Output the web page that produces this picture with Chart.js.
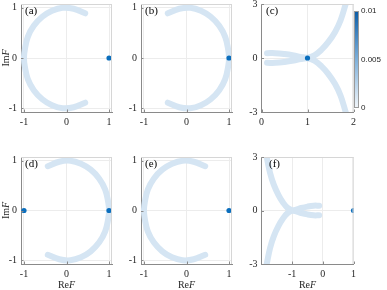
<!DOCTYPE html>
<html>
<head>
<meta charset="utf-8">
<script src="https://cdn.jsdelivr.net/npm/chart.js@4/dist/chart.umd.min.js"></script>
<style>
  body { margin: 0; background: #fff; }
  #wrap { position: relative; width: 387px; height: 290px; }
  #wrap canvas { position: absolute; left: 0; top: 0; }
</style>
</head>
<body>
<div id="wrap">
  <canvas id="pa" width="387" height="290"></canvas>
  <canvas id="pb" width="387" height="290"></canvas>
  <canvas id="pc" width="387" height="290"></canvas>
  <canvas id="pd" width="387" height="290"></canvas>
  <canvas id="pe" width="387" height="290"></canvas>
  <canvas id="pf" width="387" height="290"></canvas>
  <canvas id="cb" width="387" height="290"></canvas>
</div>
<script>
// arc open to the right (panels a, e)
const arcOpenRightX = [0.44, 0.17, -0.09, -0.34, -0.57, -0.77, -0.91, -0.98, -1.00, -0.98, -0.91, -0.77, -0.57, -0.34, -0.09, 0.17, 0.44];
const arcOpenRightY = [0.89, 0.98, 1.00, 0.94, 0.82, 0.64, 0.42, 0.17, 0.00, -0.17, -0.42, -0.64, -0.82, -0.94, -1.00, -0.98, -0.89];
// arc open to the left (panels b, d)
const arcOpenLeftX = [-0.44, -0.17, 0.09, 0.34, 0.57, 0.77, 0.91, 0.98, 1.00, 0.98, 0.91, 0.77, 0.57, 0.34, 0.09, -0.17, -0.44];
const arcOpenLeftY = [0.89, 0.98, 1.00, 0.94, 0.82, 0.64, 0.42, 0.17, 0.00, -0.17, -0.42, -0.64, -0.82, -0.94, -1.00, -0.98, -0.89];
// branches of panel c
const tailX = [0.12, 0.30, 0.50, 0.70, 0.85, 1.00, 1.15, 1.30, 1.45, 1.60, 1.72, 1.83];
const tailUpY = [0.27, 0.27, 0.22, 0.14, 0.06, 0.02, 0.15, 0.45, 0.88, 1.45, 2.10, 3.00];
const tailDownY = [-0.27, -0.27, -0.22, -0.14, -0.06, -0.02, -0.15, -0.45, -0.88, -1.45, -2.10, -3.00];
// branches of panel f
const tailMirX = [-0.12, -0.30, -0.50, -0.70, -0.85, -1.00, -1.15, -1.30, -1.45, -1.60, -1.72, -1.83];

// marker points
const dotsA = [[1, 0]];
const dotsB = [[1, 0]];
const dotsC = [[1, 0]];
const dotsD = [[-1, 0], [1, 0]];
const dotsE = [[1, 0]];
const dotsF = [[1, 0]];

// ticks
const ticksUnit = [-1, 0, 1];
const ticksC = [0, 1, 2];
const ticksF = [-1, 0, 1];
const ticksY3 = [-3, 0, 3];
const cbTicks = [0, 0.005, 0.01];
const cbTickLabels = ["0", "0.005", "0.01"];

const curveColor = "#d5e5f3";
const dotColor = "#0a6ebd";
const serif = "'Liberation Serif', 'DejaVu Serif', serif";

const toXY = (xs, ys) => xs.map((x, i) => ({ x: x, y: ys[i] }));
const toPts = (arr) => arr.map((p) => ({ x: p[0], y: p[1] }));

// label, mirror titles, axes
const panelDecor = {
  id: "panelDecor",
  afterDraw(chart, args, o) {
    const { ctx, chartArea: a } = chart;
    ctx.save();
    ctx.lineWidth = 1;
    ctx.strokeStyle = "#d6d6d6";
    ctx.beginPath();
    ctx.moveTo(a.left, a.top + 0.5);
    ctx.lineTo(a.right, a.top + 0.5);
    ctx.moveTo(a.right - 0.5, a.top);
    ctx.lineTo(a.right - 0.5, a.bottom);
    ctx.stroke();

    // small inward ticks
    ctx.strokeStyle = "#8a8a8a";
    ctx.beginPath();
    chart.scales.x.ticks.forEach((t) => {
      const px = Math.round(chart.scales.x.getPixelForValue(t.value)) + 0.5;
      ctx.moveTo(px, a.bottom);
      ctx.lineTo(px, a.bottom - 2.5);
    });
    chart.scales.y.ticks.forEach((t) => {
      const py = Math.round(chart.scales.y.getPixelForValue(t.value)) + 0.5;
      ctx.moveTo(a.left, py);
      ctx.lineTo(a.left + 2.5, py);
    });
    ctx.stroke();

    ctx.fillStyle = "#000";
    ctx.textBaseline = "middle";
    ctx.font = "11px " + serif;
    ctx.fillText(o.label, a.left + o.labelDx, a.top + 7.5);

    const mathText = (pre, cx, cy) => {
      ctx.font = "10px " + serif;
      const w1 = ctx.measureText(pre).width;
      ctx.font = "italic 10px " + serif;
      const w2 = ctx.measureText("F").width;
      const x0 = cx - (w1 + w2) / 2;
      ctx.textAlign = "left";
      ctx.font = "10px " + serif;
      ctx.fillStyle = "#262626";
      ctx.fillText(pre, x0, cy);
      ctx.font = "italic 10px " + serif;
      ctx.fillText("F", x0 + w1, cy);
    };
    if (o.xTitle) mathText("Re", (a.left + a.right) / 2, 285);
    if (o.yTitle) {
      ctx.translate(6, (a.top + a.bottom) / 2);
      ctx.rotate(-Math.PI / 2);
      mathText("Im", 0, 0);
    }
    ctx.restore();
  },
};

function makePanel(id, box, xr, yr, xt, yt, curves, dots, decor) {
  const yAxisW = 20, xAxisH = 20;
  const datasets = [
    {
      data: toPts(dots),
      pointRadius: 2.6,
      pointBackgroundColor: dotColor,
      pointBorderWidth: 0,
      showLine: false,
    },
  ];
  curves.forEach((c) => {
    datasets.push({
      data: c,
      showLine: true,
      borderColor: curveColor,
      borderWidth: 6,
      borderCapStyle: "round",
      borderJoinStyle: "round",
      tension: 0.4,
      pointRadius: 0,
      clip: 0,
    });
  });
  const tickFont = { family: serif, size: 10 };
  return new Chart(document.getElementById(id), {
    type: "scatter",
    data: { datasets: datasets },
    options: {
      responsive: false,
      animation: false,
      events: [],
      layout: {
        padding: {
          left: box[0] - yAxisW,
          top: box[1],
          right: 387 - box[2],
          bottom: 290 - box[3] - xAxisH,
        },
      },
      plugins: { legend: { display: false }, tooltip: { enabled: false }, panelDecor: decor },
      scales: {
        x: {
          type: "linear",
          min: xr[0],
          max: xr[1],
          afterBuildTicks: (s) => { s.ticks = xt.map((v) => ({ value: v })); },
          afterFit: (s) => { s.height = xAxisH; s.paddingLeft = 0; s.paddingRight = 0; },
          ticks: { font: tickFont, color: "#262626", padding: 4, maxRotation: 0 },
          grid: { color: "#ececec", drawTicks: false, tickLength: 0 },
          border: { display: true, color: "#8a8a8a" },
        },
        y: {
          type: "linear",
          min: yr[0],
          max: yr[1],
          afterBuildTicks: (s) => { s.ticks = yt.map((v) => ({ value: v })); },
          afterFit: (s) => { s.width = yAxisW; s.paddingTop = 0; s.paddingBottom = 0; },
          ticks: { font: tickFont, color: "#262626", padding: 4 },
          grid: { color: "#ececec", drawTicks: false, tickLength: 0 },
          border: { display: true, color: "#8a8a8a" },
        },
      },
    },
    plugins: [panelDecor],
  });
}

const col1 = [21, 112], col2 = [141, 232], col3 = [261.5, 353.5];
const row1 = [4, 112], row2 = [157, 264];
const unitX = [-1.07, 1.07], unitY = [-1.075, 1.075];

makePanel("pa", [col1[0], row1[0], col1[1], row1[1]], unitX, unitY, ticksUnit, ticksUnit,
  [toXY(arcOpenRightX, arcOpenRightY)], dotsA, { label: "(a)", labelDx: 4, yTitle: true });
makePanel("pb", [col2[0], row1[0], col2[1], row1[1]], unitX, unitY, ticksUnit, ticksUnit,
  [toXY(arcOpenLeftX, arcOpenLeftY)], dotsB, { label: "(b)", labelDx: 4 });
makePanel("pc", [col3[0], row1[0], col3[1], row1[1]], [0, 2], [-3, 3], ticksC, ticksY3,
  [toXY(tailX, tailUpY), toXY(tailX, tailDownY)], dotsC, { label: "(c)", labelDx: 4.5 });
makePanel("pd", [col1[0], row2[0], col1[1], row2[1]], unitX, unitY, ticksUnit, ticksUnit,
  [toXY(arcOpenLeftX, arcOpenLeftY)], dotsD, { label: "(d)", labelDx: 4, yTitle: true, xTitle: true });
makePanel("pe", [col2[0], row2[0], col2[1], row2[1]], unitX, unitY, ticksUnit, ticksUnit,
  [toXY(arcOpenRightX, arcOpenRightY)], dotsE, { label: "(e)", labelDx: 4, xTitle: true });
makePanel("pf", [col3[0], row2[0], col3[1], row2[1]], [-2, 1], [-3, 3], ticksF, ticksY3,
  [toXY(tailMirX, tailUpY), toXY(tailMirX, tailDownY)], dotsF, { label: "(f)", labelDx: 7.5, xTitle: true });

// colour bar
const colorbarFill = {
  id: "colorbarFill",
  beforeDatasetsDraw(chart) {
    const { ctx, chartArea: a } = chart;
    const g = ctx.createLinearGradient(0, a.bottom, 0, a.top);
    g.addColorStop(0, "#f2f6fa");
    g.addColorStop(0.5, "#7eb0da");
    g.addColorStop(1, "#0a5ca6");
    ctx.save();
    ctx.fillStyle = g;
    ctx.fillRect(a.left, a.top, a.right - a.left, a.bottom - a.top);
    ctx.strokeStyle = "#9a9a9a";
    ctx.lineWidth = 1;
    ctx.strokeRect(a.left + 0.5, a.top + 0.5, a.right - a.left - 1, a.bottom - a.top - 1);
    ctx.restore();
  },
};
new Chart(document.getElementById("cb"), {
  type: "scatter",
  data: { datasets: [{ data: [] }] },
  options: {
    responsive: false,
    animation: false,
    events: [],
    layout: { padding: { left: 354, top: 11, right: 0, bottom: 290 - 108 } },
    plugins: { legend: { display: false }, tooltip: { enabled: false } },
    scales: {
      x: { display: false, min: 0, max: 1 },
      y: {
        position: "right",
        min: 0,
        max: 0.01,
        afterBuildTicks: (s) => { s.ticks = cbTicks.map((v) => ({ value: v })); },
        afterFit: (s) => { s.width = 28; s.paddingTop = 0; s.paddingBottom = 0; },
        ticks: {
          callback: (v, i) => cbTickLabels[i],
          font: { family: "'Liberation Sans', Arial, sans-serif", size: 8 },
          color: "#262626",
          padding: 2,
        },
        grid: { display: false, drawTicks: false, tickLength: 0 },
        border: { display: false },
      },
    },
  },
  plugins: [colorbarFill],
});
</script>
</body>
</html>
